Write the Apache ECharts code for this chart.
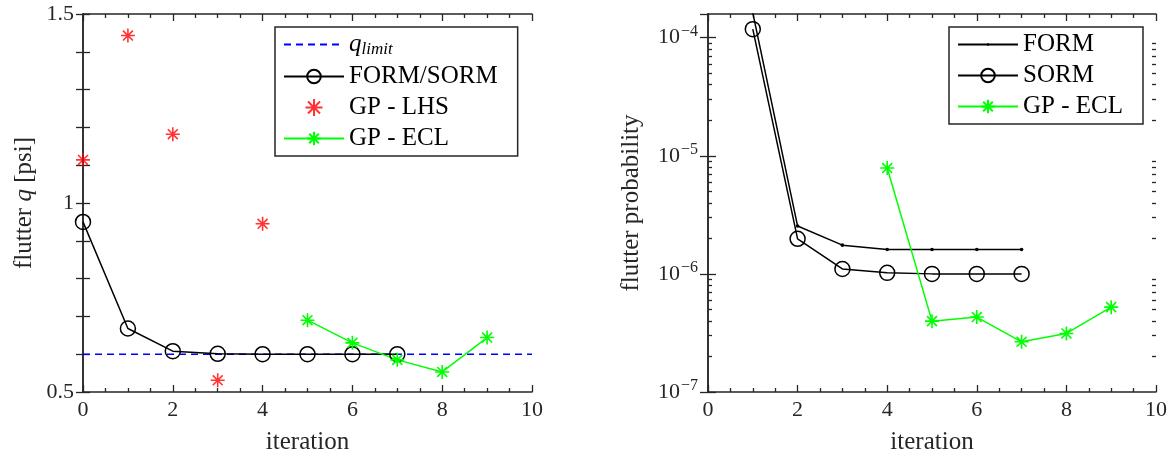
<!DOCTYPE html>
<html>
<head>
<meta charset="utf-8">
<script src="https://cdn.jsdelivr.net/npm/echarts@6/dist/echarts.min.js"></script>
<style>html,body{margin:0;padding:0;background:#fff;}#c{width:1175px;height:466px;}</style>
</head>
<body>
<div id="c"></div>
<script>
// ---- Left panel data (flutter q [psi]) ----
const formSormIter = [0, 1, 2, 3, 4, 5, 6, 7];
const formSormQ = [0.950, 0.668, 0.608, 0.601, 0.600, 0.600, 0.600, 0.600];
const qLimit = 0.6;
const qLimitIter = [0, 10];
const lhsIter = [0, 1, 2, 3, 4];
const lhsQ = [1.114, 1.443, 1.182, 0.531, 0.945];
const eclIterL = [5, 6, 7, 8, 9];
const eclQ = [0.690, 0.630, 0.585, 0.553, 0.644];

// ---- Right panel data (flutter probability) ----
const formIter = [1, 2, 3, 4, 5, 6, 7];
const formP = [1.62e-4, 2.54e-6, 1.75e-6, 1.61e-6, 1.61e-6, 1.61e-6, 1.61e-6];
const sormIter = [1, 2, 3, 4, 5, 6, 7];
const sormP = [1.18e-4, 1.98e-6, 1.10e-6, 1.02e-6, 1.0e-6, 1.0e-6, 1.0e-6];
const eclIterR = [4, 5, 6, 7, 8, 9];
const eclP = [7.87e-6, 3.98e-7, 4.31e-7, 2.66e-7, 3.13e-7, 5.23e-7];

// ---- axis ranges / ticks ----
const xMin = 0, xMax = 10, xInterval = 2;
const qMin = 0.5, qMax = 1.5, qTickStep = 0.1;
const qLabels = [0.5, 1, 1.5];
const pMinExp = -7, pMaxExp = -3.8;

const FONT = '"Liberation Serif", "Times New Roman", serif';
const AX = '#262626';
const ASTER = 'path://M10 0L10 20M0 10L20 10M2.93 2.93L17.07 17.07M17.07 2.93L2.93 17.07';
const DOT = 'path://M0 0L0 0M20 20L20 20M8 10A2 2 0 1 0 12 10A2 2 0 1 0 8 10Z';
const MAJ = 7, MIN = 4;

const zip = (a, b) => a.map((v, i) => [v, b[i]]);
const zipLog = (a, b) => a.map((v, i) => [v, Math.log10(b[i])]);

function xAxes(grid) {
  const base = {
    gridIndex: grid, type: 'value', min: xMin, max: xMax, interval: xInterval,
    axisLine: {show: true, lineStyle: {color: AX, width: 1.5}},
    splitLine: {show: false},
    axisTick: {show: true, inside: true, length: MAJ, lineStyle: {color: AX, width: 1.3}},
    minorTick: {show: true, splitNumber: 4, length: MIN, lineStyle: {color: AX, width: 1.3}}
  };
  return [
    Object.assign({}, base, {
      position: 'bottom',
      name: 'iteration', nameLocation: 'middle', nameGap: 38,
      nameTextStyle: {fontFamily: FONT, fontSize: 25, color: AX},
      axisLabel: {fontFamily: FONT, fontSize: 22, color: AX, margin: 7}
    }),
    Object.assign({}, base, {position: 'top', axisLabel: {show: false}})
  ];
}

// minor log ticks
const minorLog = [];
for (let n = pMinExp; n < Math.ceil(pMaxExp); n++) {
  for (let k = 2; k <= 9; k++) {
    const v = n + Math.log10(k);
    if (v < pMaxExp) minorLog.push(v);
  }
}

const option = {
  animation: false,
  backgroundColor: '#fff',
  grid: [
    {left: 83, right: 643, top: 14, bottom: 74},
    {left: 708, right: 19, top: 14, bottom: 74}
  ],
  xAxis: [].concat(xAxes(0), xAxes(1)),
  yAxis: [
    {
      gridIndex: 0, type: 'value', position: 'left', min: qMin, max: qMax, interval: qTickStep,
      axisLine: {show: true, lineStyle: {color: AX, width: 1.5}},
      splitLine: {show: false},
      axisTick: {show: true, inside: true, length: MAJ, lineStyle: {color: AX, width: 1.3}},
      axisLabel: {
        fontFamily: FONT, fontSize: 22, color: AX, margin: 9,
        formatter: v => qLabels.some(l => Math.abs(l - v) < 1e-6) ? String(+v.toFixed(1)) : ''
      },
      name: 'flutter {i|q} [psi]', nameLocation: 'middle', nameGap: 46,
      nameTextStyle: {fontFamily: FONT, fontSize: 25, color: AX,
        rich: {i: {fontFamily: FONT, fontSize: 25, fontStyle: 'italic', color: AX}}}
    },
    {
      gridIndex: 0, type: 'value', position: 'right', min: qMin, max: qMax, interval: qTickStep,
      axisLine: {show: true, lineStyle: {color: AX, width: 1.5}},
      splitLine: {show: false},
      axisTick: {show: true, inside: true, length: MAJ, lineStyle: {color: AX, width: 1.3}},
      axisLabel: {show: false}
    },
    {
      gridIndex: 1, type: 'value', position: 'left', min: pMinExp, max: pMaxExp, interval: 1,
      axisLine: {show: true, lineStyle: {color: AX, width: 1.5}},
      splitLine: {show: false},
      axisTick: {show: true, inside: true, length: 8, lineStyle: {color: AX, width: 1.3}},
      axisLabel: {
        margin: 10,
        formatter: v => '{b|10}{s|\u2212' + Math.round(-v) + '}',
        rich: {
          b: {fontFamily: FONT, fontSize: 22, color: AX},
          s: {fontFamily: FONT, fontSize: 16, color: AX, padding: [0, 0, 12, 1]}
        }
      },
      name: 'flutter probability', nameLocation: 'middle', nameGap: 64,
      nameTextStyle: {fontFamily: FONT, fontSize: 25, color: AX}
    },
    {
      gridIndex: 1, type: 'value', position: 'right', min: pMinExp, max: pMaxExp, interval: 1,
      axisLine: {show: true, lineStyle: {color: AX, width: 1.5}},
      splitLine: {show: false},
      axisTick: {show: true, inside: true, length: 8, lineStyle: {color: AX, width: 1.3}},
      axisLabel: {show: false}
    },
    {
      gridIndex: 1, type: 'value', position: 'left', min: pMinExp, max: pMaxExp,
      axisLine: {show: false}, splitLine: {show: false},
      axisTick: {show: true, inside: true, length: MIN, customValues: minorLog, lineStyle: {color: AX, width: 1.3}},
      axisLabel: {show: false}
    },
    {
      gridIndex: 1, type: 'value', position: 'right', min: pMinExp, max: pMaxExp,
      axisLine: {show: false}, splitLine: {show: false},
      axisTick: {show: true, inside: true, length: MIN, customValues: minorLog, lineStyle: {color: AX, width: 1.3}},
      axisLabel: {show: false}
    }
  ],
  legend: [
    {
      orient: 'vertical', left: 275, top: 27,
      data: [{name: 'qlimit', itemStyle: {color: 'rgba(0,0,0,0)', borderWidth: 0, opacity: 0}},
             'FORM/SORM', 'GP - LHS', 'GP - ECL'],
      itemWidth: 60, itemHeight: 17, itemGap: 6,
      padding: [5, 20, 5, 8],
      borderColor: AX, borderWidth: 1.5, backgroundColor: '#fff',
      selectedMode: false,
      formatter: n => n === 'qlimit' ? '{q|q}{sub|limit}' : n,
      textStyle: {fontFamily: FONT, fontSize: 25, color: '#000', lineHeight: 25,
        rich: {
          q: {fontFamily: FONT, fontSize: 25, fontStyle: 'italic', color: '#000'},
          sub: {fontFamily: FONT, fontSize: 17, fontStyle: 'italic', color: '#000', padding: [10, 0, 0, 0]}
        }}
    },
    {
      orient: 'vertical', left: 949, top: 27,
      data: ['FORM', 'SORM', 'GP - ECL'],
      itemWidth: 60, itemHeight: 17, itemGap: 6,
      padding: [5, 20, 5, 8],
      borderColor: AX, borderWidth: 1.5, backgroundColor: '#fff',
      selectedMode: false,
      textStyle: {fontFamily: FONT, fontSize: 25, color: '#000', lineHeight: 25}
    }
  ],
  series: [
    {
      name: 'qlimit', type: 'line', xAxisIndex: 0, yAxisIndex: 0,
      data: qLimitIter.map(x => [x, qLimit]), symbol: 'none',
      lineStyle: {color: '#0000ff', width: 1.5, type: [7, 5]},
      itemStyle: {color: '#0000ff'}
    },
    {
      name: 'FORM/SORM', type: 'line', xAxisIndex: 0, yAxisIndex: 0,
      data: zip(formSormIter, formSormQ),
      symbol: 'circle', symbolSize: 15,
      lineStyle: {color: '#000', width: 1.5},
      itemStyle: {color: 'rgba(255,255,255,0)', borderColor: '#000', borderWidth: 1.5}
    },
    {
      name: 'GP - LHS', type: 'scatter', xAxisIndex: 0, yAxisIndex: 0,
      data: zip(lhsIter, lhsQ),
      symbol: ASTER, symbolSize: 14,
      itemStyle: {color: '#ff0000', borderColor: '#ff0000', borderWidth: 1.6}
    },
    {
      name: 'GP - ECL', type: 'line', xAxisIndex: 0, yAxisIndex: 0,
      data: zip(eclIterL, eclQ),
      symbol: ASTER, symbolSize: 14,
      lineStyle: {color: '#00ff00', width: 1.5},
      itemStyle: {color: '#00ff00', borderColor: '#00ff00', borderWidth: 1.6}
    },
    {
      name: 'FORM', type: 'line', xAxisIndex: 2, yAxisIndex: 2,
      data: zipLog(formIter, formP),
      symbol: DOT, symbolSize: 18,
      lineStyle: {color: '#000', width: 1.5},
      itemStyle: {color: '#000'}
    },
    {
      name: 'SORM', type: 'line', xAxisIndex: 2, yAxisIndex: 2,
      data: zipLog(sormIter, sormP),
      symbol: 'circle', symbolSize: 15,
      lineStyle: {color: '#000', width: 1.5},
      itemStyle: {color: 'rgba(255,255,255,0)', borderColor: '#000', borderWidth: 1.5}
    },
    {
      name: 'GP - ECL', type: 'line', xAxisIndex: 2, yAxisIndex: 2,
      data: zipLog(eclIterR, eclP),
      symbol: ASTER, symbolSize: 14,
      lineStyle: {color: '#00ff00', width: 1.5},
      itemStyle: {color: '#00ff00', borderColor: '#00ff00', borderWidth: 1.6}
    }
  ]
};

const chart = echarts.init(document.getElementById('c'), null, {renderer: 'canvas'});
chart.setOption(option);
</script>
</body>
</html>
